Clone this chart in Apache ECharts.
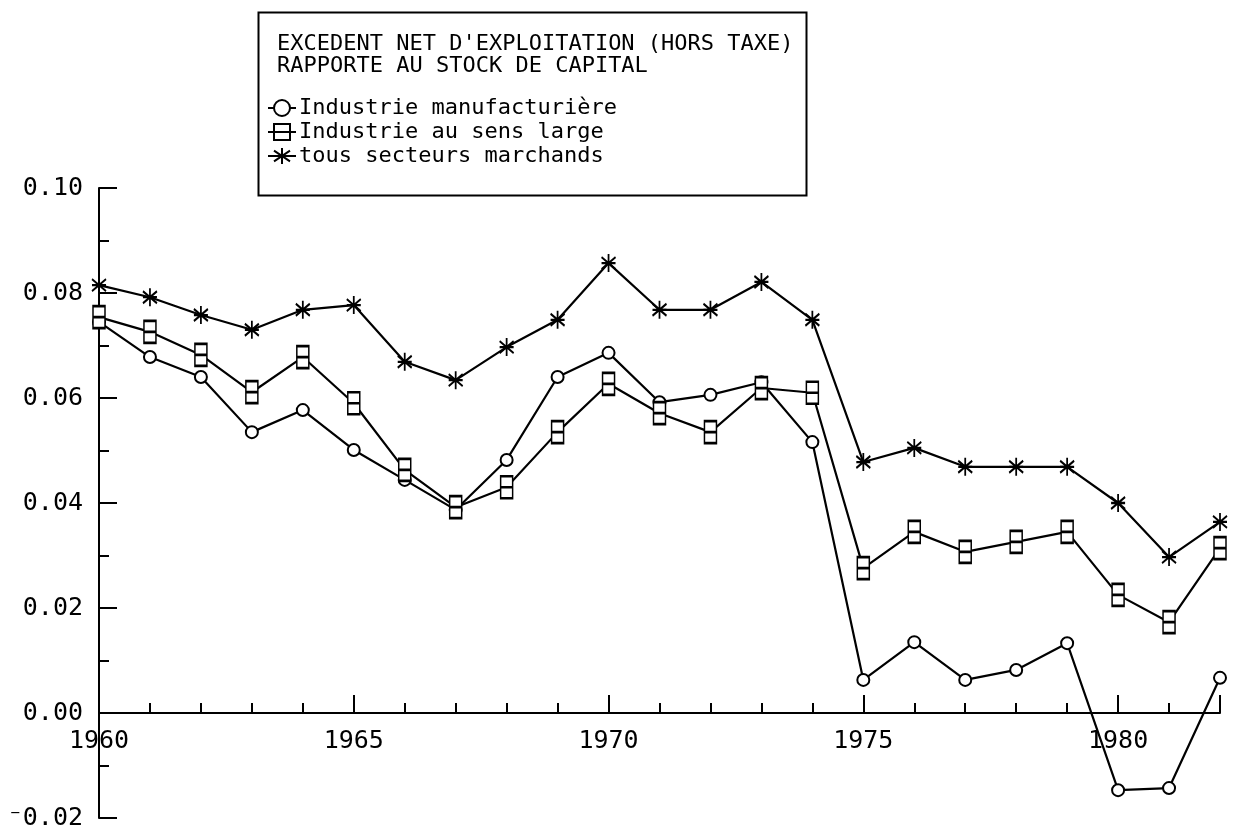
<!DOCTYPE html>
<html>
<head>
<meta charset="utf-8">
<script src="https://cdn.jsdelivr.net/npm/echarts@6/dist/echarts.min.js"></script>
<style>html,body{margin:0;padding:0;background:#fff}#c{width:1233px;height:834px}</style>
</head>
<body>
<div id="c"></div>
<script>
var years = [1960,1961,1962,1963,1964,1965,1966,1967,1968,1969,1970,1971,1972,1973,1974,1975,1976,1977,1978,1979,1980,1981,1982];
var manufacturiere = [0.0745,0.0678,0.0640,0.0535,0.0577,0.0501,0.0444,0.0387,0.0482,0.0640,0.0686,0.0592,0.0606,0.0630,0.0516,0.0063,0.0135,0.0063,0.0082,0.0133,-0.0147,-0.0143,0.0067];
var sensLarge = [0.0754,0.0726,0.0682,0.0611,0.0678,0.0590,0.0463,0.0392,0.0430,0.0535,0.0627,0.0571,0.0535,0.0619,0.0610,0.0276,0.0345,0.0307,0.0326,0.0345,0.0225,0.0173,0.0314];
var tousSecteurs = [0.0815,0.0792,0.0758,0.0730,0.0768,0.0777,0.0669,0.0634,0.0697,0.0749,0.0857,0.0768,0.0768,0.0821,0.0749,0.0478,0.0505,0.0469,0.0469,0.0469,0.0400,0.0297,0.0364];
var seriesNames = ['Industrie manufacturière','Industrie au sens large','tous secteurs marchands'];
var titleLines = ["EXCEDENT NET D'EXPLOITATION (HORS TAXE)", 'RAPPORTE AU STOCK DE CAPITAL'];
var xTickLabels = ['1960','1965','1970','1975','1980'];
var yTickLabels = ['⁻0.02','0.00','0.02','0.04','0.06','0.08','0.10'];

var FONT = 'DejaVu Sans Mono';
function pairs(v){ return years.map(function(y,i){ return [y, v[i]]; }); }
var rectSym = 'path://M0,0L12,0L12,22L0,22Z M0,11L12,11';
var starSym = 'path://M7,0L7,18 M0,3L14,15 M0,15L14,3 M0,9L14,9';

var chart = echarts.init(document.getElementById('c'), null, {renderer:'canvas'});
chart.setOption({
  backgroundColor:'#fff',
  animation:false,
  title:{
    text: titleLines.join('\n'),
    left: 272, top: 28,
    textStyle:{fontFamily:FONT, fontSize:22, fontWeight:'normal', color:'#000', lineHeight:22}
  },
  legend:{
    orient:'vertical', left:262, top:92, itemGap:2, itemWidth:28, itemHeight:20,
    textStyle:{fontFamily:FONT, fontSize:22, color:'#000', padding:[0,0,0,-2]},
    data: seriesNames
  },
  graphic:[{type:'rect', left:256, top:10, shape:{width:548, height:183},
    style:{fill:'none', stroke:'#000', lineWidth:2}, z:10}],
  grid:[
    {left:99, right:13, top:188, bottom:16, containLabel:false, outerBoundsMode:'none'},
    {left:99, right:13, top:188, bottom:121, containLabel:false, outerBoundsMode:'none'}
  ],
  xAxis:[{
    gridIndex:0, type:'value', min:1960, max:1982, show:false
  },{
    gridIndex:1, type:'value', min:1960, max:1982, interval:5, position:'bottom',
    axisLine:{show:true, onZero:false, lineStyle:{color:'#000', width:2}},
    axisTick:{show:true, inside:true, length:18, lineStyle:{color:'#000', width:2}},
    axisLabel:{show:true, margin:16, color:'#000', fontFamily:FONT, fontSize:25,
      formatter:function(v){ var s=String(Math.round(v)); return xTickLabels.indexOf(s)>=0 ? s : ''; }},
    splitLine:{show:false}
  },{
    gridIndex:1, type:'value', min:1960, max:1982, interval:1, position:'bottom',
    axisLine:{show:false, onZero:false},
    axisTick:{show:true, inside:true, length:10, lineStyle:{color:'#000', width:2}},
    axisLabel:{show:false}, splitLine:{show:false}
  }],
  yAxis:[{
    gridIndex:0, type:'value', min:-0.02, max:0.10, interval:0.02,
    axisLine:{show:true, onZero:false, lineStyle:{color:'#000', width:2}},
    axisTick:{show:true, inside:true, length:18, lineStyle:{color:'#000', width:2}},
    minorTick:{show:true, splitNumber:2, length:10, lineStyle:{color:'#000', width:2}},
    axisLabel:{margin:16, color:'#000', fontFamily:FONT, fontSize:25,
      formatter:function(v){ var i=Math.round((v+0.02)/0.02); return yTickLabels[i]; }},
    splitLine:{show:false}
  },{
    gridIndex:1, type:'value', min:0, max:1, show:false
  }],
  series:[{
    name:seriesNames[0], type:'line', data:pairs(manufacturiere),
    symbol:'circle', symbolSize:12,
    lineStyle:{color:'#000', width:2.2},
    itemStyle:{color:'#fff', borderColor:'#000', borderWidth:2}
  },{
    name:seriesNames[1], type:'line', data:pairs(sensLarge),
    symbol:rectSym, symbolSize:[12,22],
    lineStyle:{color:'#000', width:2.2},
    itemStyle:{color:'#fff', borderColor:'#000', borderWidth:2}
  },{
    name:seriesNames[2], type:'line', data:pairs(tousSecteurs),
    symbol:starSym, symbolSize:[14,18],
    lineStyle:{color:'#000', width:2.2},
    itemStyle:{color:'none', borderColor:'#000', borderWidth:2}
  }]
});
</script>
</body>
</html>
